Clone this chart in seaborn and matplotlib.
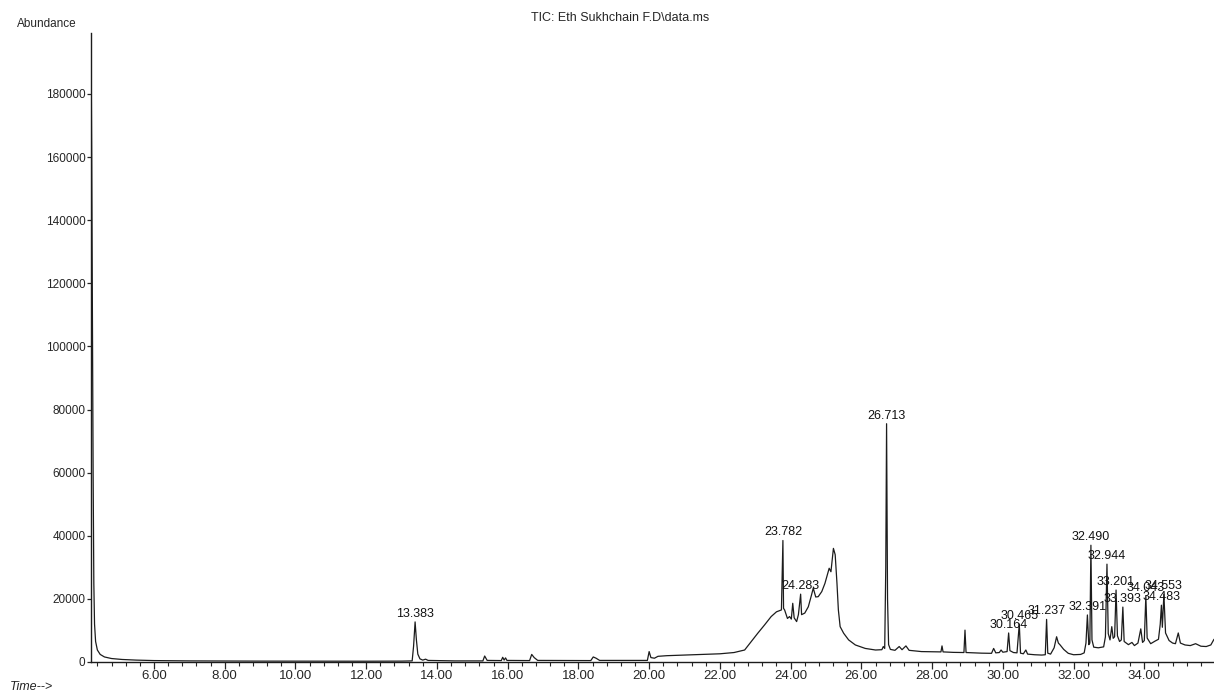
import numpy as np
import pandas as pd
import matplotlib
matplotlib.use("Agg")
import matplotlib.pyplot as plt
from matplotlib.ticker import MultipleLocator, FuncFormatter
import seaborn as sns

# Retention time (min) and abundance
time = [4.22, 4.24, 4.26, 4.28, 4.30, 4.32, 4.35, 4.40, 4.48, 4.60, 4.80, 5.10, 5.50,
        6.00, 7.00, 8.00, 9.00, 10.00, 11.00, 12.00, 13.00, 13.30, 13.34, 13.383,
        13.42, 13.46, 13.52, 13.60, 13.68, 13.75, 14.50, 15.30, 15.35, 15.42, 15.82,
        15.86, 15.90, 15.94, 15.98, 16.62, 16.68, 16.75, 16.85, 18.35, 18.42, 18.50,
        18.60, 19.95, 20.00, 20.05, 20.15, 20.25, 20.50, 21.00, 21.50, 22.00, 22.40,
        22.70, 22.88, 23.07, 23.26, 23.45, 23.60, 23.74, 23.782, 23.80, 23.83, 23.91,
        23.97, 24.02, 24.06, 24.10, 24.17, 24.22, 24.283, 24.31, 24.40, 24.50, 24.59,
        24.64, 24.71, 24.78, 24.88, 24.97, 25.09, 25.14, 25.21, 25.26, 25.31, 25.35,
        25.40, 25.50, 25.64, 25.83, 26.11, 26.40, 26.58, 26.62, 26.66, 26.69, 26.713,
        26.74, 26.77, 26.82, 26.95, 27.07, 27.15, 27.26, 27.35, 27.70, 28.00, 28.25,
        28.28, 28.31, 28.60, 28.90, 28.93, 28.96, 29.40, 29.68, 29.74, 29.80, 29.90,
        29.95, 30.00, 30.12, 30.164, 30.20, 30.30, 30.40, 30.465, 30.50, 30.58, 30.65,
        30.70, 30.90, 31.10, 31.20, 31.237, 31.27, 31.35, 31.45, 31.52, 31.57, 31.62,
        31.72, 31.85, 32.00, 32.20, 32.30, 32.35, 32.391, 32.43, 32.46, 32.490, 32.52,
        32.57, 32.70, 32.85, 32.90, 32.944, 32.98, 33.03, 33.08, 33.12, 33.16, 33.201,
        33.24, 33.30, 33.35, 33.393, 33.43, 33.55, 33.65, 33.72, 33.82, 33.90, 33.95,
        34.00, 34.043, 34.08, 34.18, 34.30, 34.40, 34.45, 34.483, 34.51, 34.553, 34.60,
        34.70, 34.80, 34.88, 34.96, 35.02, 35.15, 35.30, 35.45, 35.60, 35.75, 35.88,
        35.97]
abundance = [199000, 160000, 110000, 60000, 25000, 12000, 6500, 3800, 2400, 1600, 1100, 800, 600,
             450, 350, 300, 280, 260, 250, 250, 280, 350, 5000, 12700,
             7000, 2500, 1000, 600, 900, 500, 350, 350, 1900, 500, 450,
             1500, 600, 1300, 500, 450, 2400, 1400, 500, 450, 1600, 1200,
             500, 500, 3300, 1400, 1200, 1800, 2000, 2200, 2400, 2600, 3000,
             3800, 6400, 9100, 11700, 14400, 15900, 16500, 38500, 17000, 16500, 13800,
             14400, 13600, 18600, 14000, 12800, 15000, 21500, 15000, 15500, 17500, 21200,
             23400, 20600, 20700, 22300, 24900, 29700, 28600, 36000, 34000, 25000, 16500,
             11200, 9100, 7000, 5400, 4300, 3800, 3900, 4900, 4300, 30000, 75500,
             20000, 5500, 4000, 3700, 4900, 3900, 5100, 3700, 3300, 3250, 3200,
             5100, 3200, 3050, 3000, 10100, 3000, 2800, 2750, 4300, 2900, 3000,
             3800, 3100, 3300, 9200, 3600, 3000, 2900, 12000, 2800, 2600, 3800,
             2500, 2300, 2200, 2300, 13500, 2800, 2500, 4500, 8000, 6000, 5400,
             4000, 2750, 2300, 2400, 2900, 6000, 14900, 5500, 6000, 37000, 7000,
             4700, 4500, 4800, 8000, 31000, 9000, 7000, 11200, 7500, 8000, 22800,
             8300, 6500, 7000, 17400, 6500, 5500, 6200, 5200, 6000, 10500, 6200,
             6800, 21000, 7600, 5800, 6600, 7200, 12000, 18000, 11000, 21500, 9200,
             6800, 6000, 5800, 9200, 6000, 5400, 5200, 5800, 5000, 4900, 5400,
             7200]

# Labelled peaks
peak_times = [13.383, 23.782, 24.283, 26.713, 30.164, 30.465, 31.237, 32.391,
              32.490, 32.944, 33.201, 33.393, 34.043, 34.483, 34.553]

y_ticks = list(range(0, 180001, 20000))

df = pd.DataFrame({"time": time, "abundance": abundance})

sns.set_style("ticks")
plt.rcParams["font.family"] = ["Liberation Sans", "DejaVu Sans"]

fig = plt.figure(figsize=(12.14, 6.94), dpi=100)
ax = fig.add_axes([91 / 1214, 32 / 694, 1123 / 1214, 629 / 694])

sns.lineplot(data=df, x="time", y="abundance", estimator=None, sort=False,
             color="#1c1c1c", linewidth=0.9, ax=ax)

# peak retention time labels
for t in peak_times:
    a = df.loc[np.isclose(df["time"], t), "abundance"].iloc[0]
    ax.annotate(f"{t:.3f}", (t, a), xytext=(0, 1.5), textcoords="offset points",
                ha="center", va="bottom", fontsize=9, color="#111111")

ax.set_xlim(4.22, 35.97)
ax.set_ylim(0, 199300)
ax.xaxis.set_major_locator(MultipleLocator(2))
ax.xaxis.set_minor_locator(MultipleLocator(0.4))
ax.xaxis.set_major_formatter(FuncFormatter(lambda v, p: f"{v:.2f}"))
ax.set_yticks(y_ticks)
ax.yaxis.set_major_formatter(FuncFormatter(lambda v, p: f"{int(v)}"))

ax.tick_params(axis="x", which="major", length=5, width=0.9, pad=1, labelsize=9.5)
ax.tick_params(axis="x", which="minor", length=3, width=0.8)
ax.tick_params(axis="y", which="major", length=3, width=0.9, pad=1, labelsize=8.5)

for side in ["top", "right"]:
    ax.spines[side].set_visible(False)
for side in ["left", "bottom"]:
    ax.spines[side].set_linewidth(1.0)
    ax.spines[side].set_color("#1c1c1c")

ax.set_xlabel("")
ax.set_ylabel("")

fig.text(620 / 1214, 1 - 18 / 694, "TIC: Eth Sukhchain F.D\\data.ms",
         ha="center", va="center", fontsize=9)
fig.text(17 / 1214, 1 - 24 / 694, "Abundance", ha="left", va="center", fontsize=8.5)
fig.text(10 / 1214, 1 - 687 / 694, "Time-->", ha="left", va="center",
         fontsize=9, style="italic")

fig.savefig("out.png", dpi=100)
